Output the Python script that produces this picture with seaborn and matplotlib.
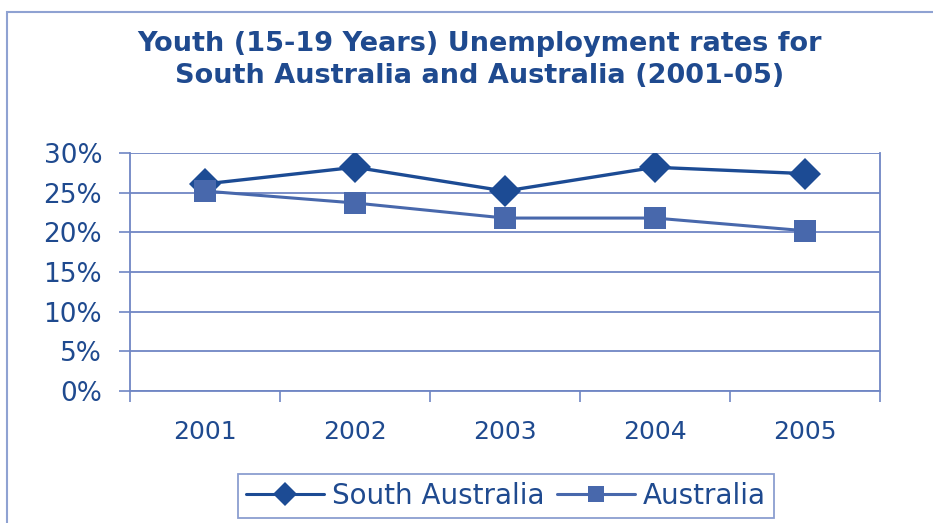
import matplotlib
matplotlib.use("Agg")
import matplotlib.pyplot as plt
import seaborn as sns
import pandas as pd
from matplotlib.patches import Rectangle
from matplotlib.ticker import FixedLocator, PercentFormatter

# Youth unemployment rates (%), 15-19 years
years = ["2001", "2002", "2003", "2004", "2005"]
south_australia = [26.1, 28.2, 25.2, 28.2, 27.4]
australia = [25.2, 23.7, 21.8, 21.8, 20.2]
y_ticks = [0, 5, 10, 15, 20, 25, 30]

df = pd.DataFrame({
    "Year": years * 2,
    "Rate": south_australia + australia,
    "Series": ["South Australia"] * len(years) + ["Australia"] * len(years),
})

sns.set_theme(style="white")
plt.rcParams["font.family"] = ["DejaVu Sans"]

GRID = "#6f86c4"
TEXT = "#1f4a8f"
palette = {"South Australia": "#1c4b94", "Australia": "#4868ac"}
markers = {"South Australia": "D", "Australia": "s"}

fig = plt.figure(figsize=(9.33, 5.23), dpi=100)
fig.patch.set_facecolor("white")
# outer chart frame
fig.patches.append(Rectangle((7 / 933, -0.02), 1.0, 1 - 12 / 523 + 0.02,
                             transform=fig.transFigure, fill=False,
                             edgecolor="#8fa2d2", linewidth=1.5))

ax = fig.add_axes([130 / 933, 1 - 391 / 523, 750 / 933, 238 / 523])
df["x"] = df["Year"].map({y: i for i, y in enumerate(years)})

sns.lineplot(data=df[df["Series"] == "South Australia"], x="x", y="Rate",
             color=palette["South Australia"], marker="D", markersize=16,
             markeredgewidth=0, linewidth=2.4, ax=ax, legend=False)
sns.lineplot(data=df[df["Series"] == "Australia"], x="x", y="Rate",
             color=palette["Australia"], marker="s", markersize=16,
             markeredgewidth=0, linewidth=2.2, ax=ax, legend=False)

ax.set_xlim(-0.5, len(years) - 0.5)
ax.set_ylim(0, 30)
ax.yaxis.set_major_locator(FixedLocator(y_ticks))
ax.yaxis.set_major_formatter(PercentFormatter(decimals=0))
ax.set_xticks(range(len(years)))
ax.set_xticklabels(years)
ax.set_xticks([i - 0.5 for i in range(len(years) + 1)], minor=True)
ax.tick_params(axis="x", which="major", length=0, pad=21, labelsize=18, labelcolor=TEXT)
ax.tick_params(axis="x", which="minor", length=8, width=1.2, color=GRID, direction="out", bottom=True)
ax.tick_params(axis="y", length=8, width=1.2, color=GRID, direction="out", left=True,
               labelsize=19, labelcolor=TEXT, pad=12)
ax.grid(axis="y", color=GRID, linewidth=1.3)
ax.set_axisbelow(True)
ax.set_xlabel("")
ax.set_ylabel("")
for side in ["left", "bottom", "right", "top"]:
    ax.spines[side].set_color(GRID)
    ax.spines[side].set_linewidth(1.3)
ax.spines["top"].set_visible(False)

fig.text(480 / 933, 1 - 44 / 523, "Youth (15-19 Years) Unemployment rates for",
         ha="center", va="center", fontsize=19.5, fontweight="bold", color=TEXT)
fig.text(480 / 933, 1 - 76 / 523, "South Australia and Australia (2001-05)",
         ha="center", va="center", fontsize=19.5, fontweight="bold", color=TEXT)

handles = [
    plt.Line2D([], [], color=palette[s], marker=markers[s], markersize=12,
               linewidth=2.2, markeredgewidth=0, label=s)
    for s in ["South Australia", "Australia"]
]
leg = fig.legend(handles=handles, loc="center", bbox_to_anchor=(506 / 933, 1 - 496 / 523),
                 ncol=2, frameon=True, fancybox=False, fontsize=20, handlelength=2.8,
                 handletextpad=0.3, columnspacing=0.45, borderpad=0.3, borderaxespad=0,
                 labelcolor=TEXT, edgecolor=GRID)
leg.get_frame().set_linewidth(1.3)

fig.savefig("out.png", dpi=100)
